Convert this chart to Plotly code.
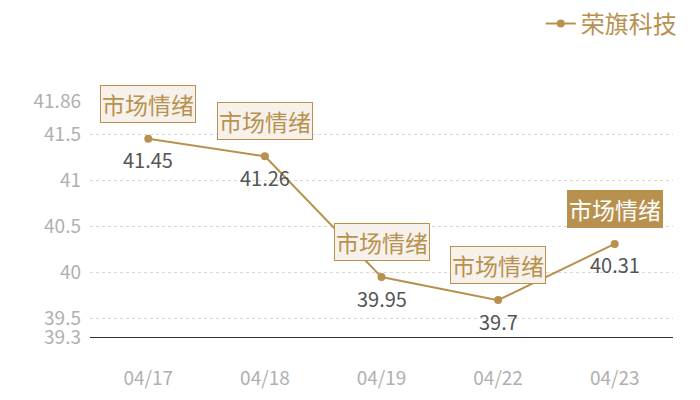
import plotly.graph_objects as go

dates = ["04/17", "04/18", "04/19", "04/22", "04/23"]
prices = [41.45, 41.26, 39.95, 39.7, 40.31]
y_ticks = [39.3, 39.5, 40, 40.5, 41, 41.5, 41.86]
y_tick_labels = ["39.3", "39.5", "40", "40.5", "41", "41.5", "41.86"]
tag_text = "市场情绪"
series_name = "荣旗科技"

gold = "#b8914f"
font = "Noto Sans CJK SC"

fig = go.Figure()
fig.add_trace(go.Scatter(
    x=dates,
    y=prices,
    mode="lines+markers",
    name=series_name,
    line=dict(color=gold, width=2),
    marker=dict(size=8, color=gold),
    hoverinfo="x+y",
))

annotations = []
for i, (d, p) in enumerate(zip(dates, prices)):
    # value label under each point
    annotations.append(dict(
        x=d, y=p, text=str(p), showarrow=False, yshift=-21,
        font=dict(family=font, size=20, color="#555555"),
    ))
    last = i == len(dates) - 1
    annotations.append(dict(
        x=d, y=p, text=tag_text, showarrow=False, yshift=35,
        font=dict(family=font, size=23, color="#ffffff" if last else gold),
        bgcolor=gold if last else "#f6f1ea",
        bordercolor=gold, borderwidth=1, borderpad=1,
    ))

# page body has an 8px margin, so the margins below are offset for it
fig.update_layout(
    width=700,
    height=400,
    paper_bgcolor="white",
    plot_bgcolor="white",
    margin=dict(l=82, r=35, t=93, b=71, autoexpand=False),
    font=dict(family=font),
    showlegend=True,
    legend=dict(
        orientation="h", x=1.015, xanchor="right",
        yref="container", y=0.96, yanchor="middle",
        font=dict(family=font, size=24, color=gold),
        bgcolor="rgba(0,0,0,0)",
    ),
    annotations=annotations,
    xaxis=dict(
        type="category",
        range=[-0.5, 4.5],
        showgrid=False,
        showline=True,
        linecolor="#333333",
        linewidth=1,
        ticks="",
        ticklabelstandoff=24,
        tickfont=dict(family=font, size=19, color="#b0b0b0"),
        automargin=False,
        fixedrange=True,
    ),
    yaxis=dict(
        range=[39.3, 41.86],
        tickvals=y_ticks,
        ticktext=y_tick_labels,
        showgrid=True,
        gridcolor="#d6d6d6",
        griddash="dot",
        gridwidth=1,
        zeroline=False,
        showline=False,
        ticks="",
        ticklabelstandoff=8,
        tickfont=dict(family=font, size=19, color="#b0b0b0"),
        automargin=False,
        fixedrange=True,
    ),
)

fig.write_html("out.html")
